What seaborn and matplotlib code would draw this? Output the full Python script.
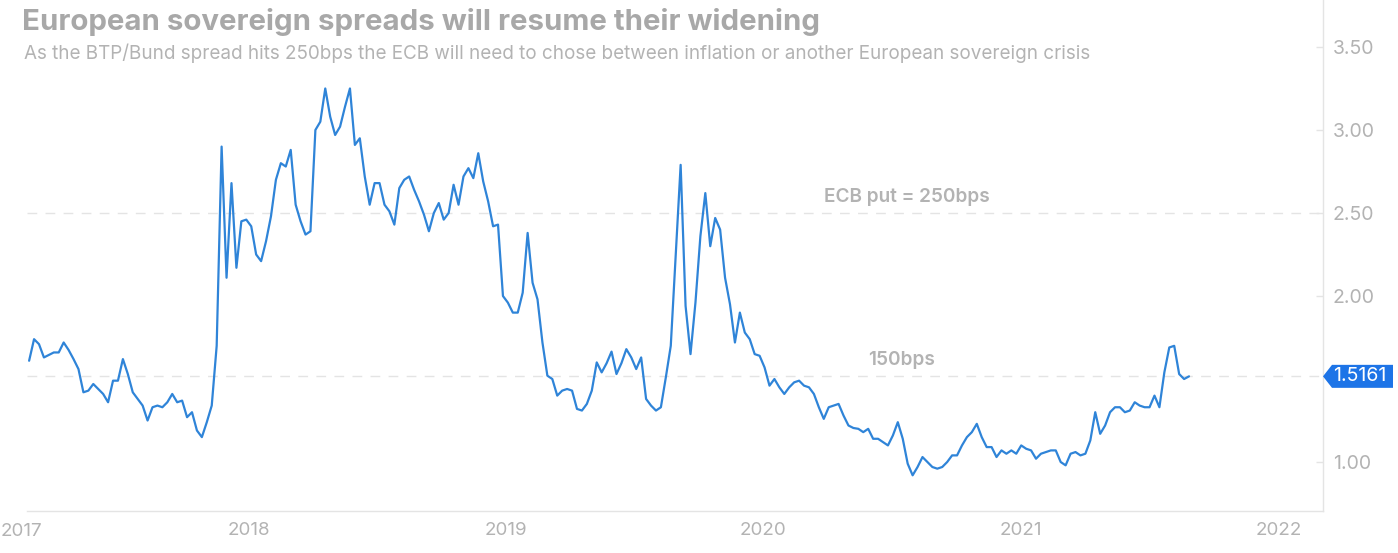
import pandas as pd
import seaborn as sns
import matplotlib
matplotlib.use("Agg")
import matplotlib.pyplot as plt
from matplotlib.patches import Polygon
from matplotlib.transforms import IdentityTransform

# weekly BTP/Bund spread (%)
dates = pd.date_range("2017-02-24", periods=236, freq="W-FRI")
spread = [
    1.61, 1.74, 1.71, 1.63, 1.645, 1.66, 1.66, 1.72, 1.675, 1.62,
    1.56, 1.42, 1.43, 1.47, 1.44, 1.41, 1.36, 1.49, 1.49, 1.62,
    1.53, 1.42, 1.38, 1.34, 1.25, 1.33, 1.34, 1.33, 1.36, 1.41,
    1.36, 1.37, 1.27, 1.30, 1.19, 1.15, 1.24, 1.34, 1.70, 2.90,
    2.11, 2.68, 2.17, 2.45, 2.46, 2.42, 2.25, 2.21, 2.33, 2.48,
    2.70, 2.80, 2.78, 2.88, 2.55, 2.45, 2.37, 2.39, 3.00, 3.05,
    3.25, 3.08, 2.97, 3.02, 3.14, 3.25, 2.91, 2.95, 2.72, 2.55,
    2.68, 2.68, 2.55, 2.51, 2.43, 2.65, 2.70, 2.72, 2.64, 2.57,
    2.49, 2.39, 2.50, 2.56, 2.46, 2.50, 2.67, 2.55, 2.72, 2.77,
    2.71, 2.86, 2.69, 2.57, 2.42, 2.43, 2.00, 1.96, 1.90, 1.90,
    2.02, 2.38, 2.08, 1.98, 1.72, 1.52, 1.50, 1.40, 1.43, 1.44,
    1.43, 1.32, 1.31, 1.35, 1.43, 1.60, 1.54, 1.595, 1.665, 1.53,
    1.595, 1.68, 1.63, 1.56, 1.63, 1.38, 1.34, 1.31, 1.33, 1.51,
    1.70, 2.25, 2.79, 1.94, 1.65, 1.96, 2.36, 2.62, 2.30, 2.47,
    2.40, 2.11, 1.95, 1.72, 1.90, 1.78, 1.74, 1.65, 1.64, 1.57,
    1.46, 1.50, 1.45, 1.41, 1.45, 1.48, 1.49, 1.46, 1.45, 1.41,
    1.33, 1.26, 1.33, 1.34, 1.35, 1.28, 1.22, 1.205, 1.20, 1.18,
    1.20, 1.14, 1.14, 1.12, 1.10, 1.16, 1.24, 1.14, 0.99, 0.92,
    0.97, 1.03, 1.00, 0.97, 0.96, 0.97, 1.00, 1.04, 1.04, 1.10,
    1.15, 1.18, 1.23, 1.15, 1.09, 1.09, 1.03, 1.07, 1.05, 1.07,
    1.05, 1.10, 1.08, 1.07, 1.02, 1.05, 1.06, 1.07, 1.07, 1.00,
    0.98, 1.05, 1.06, 1.04, 1.05, 1.13, 1.30, 1.17, 1.22, 1.30,
    1.33, 1.33, 1.30, 1.31, 1.36, 1.34, 1.33, 1.33, 1.40, 1.33,
    1.54, 1.69, 1.70, 1.53, 1.50, 1.5161,
]
year_labels = ["2018", "2019", "2020", "2021", "2022"]
y_ticks = [1.0, 2.0, 2.5, 3.0, 3.5]
ecb_put = 2.5
last_value = spread[-1]

BLUE = "#2f84d8"
TAG_BLUE = "#1d74e7"
GRID = "#e4e4e4"
LABEL = "#b3b3b3"

df = pd.DataFrame({"date": dates, "spread": spread})

sns.set_theme(style="white")
plt.rcParams["font.family"] = ["Inter", "DejaVu Sans"]

fig = plt.figure(figsize=(13.98, 5.53), dpi=100)
ax = fig.add_axes([27 / 1398, 42 / 553, 1296 / 1398, 511 / 553])

ax.axhline(ecb_put, color=GRID, lw=1, dashes=(7, 6), zorder=1)
ax.axhline(last_value, color=GRID, lw=1, dashes=(7, 6), zorder=1)

sns.lineplot(data=df, x="date", y="spread", ax=ax, color=BLUE, linewidth=1.6, zorder=3)

ax.set_xlim(pd.Timestamp("2017-02-21"), pd.Timestamp("2022-03-05"))
ax.set_ylim(0.705, 3.783)
ax.set_xlabel("")
ax.set_ylabel("")

ax.set_xticks([pd.Timestamp(f"{y}-01-01") for y in year_labels])
ax.set_xticklabels(year_labels)
ax.yaxis.tick_right()
ax.set_yticks(y_ticks)
ax.set_yticklabels([f"{v:.2f}" for v in y_ticks])
ax.tick_params(axis="x", length=0, pad=8, labelsize=13.5, labelcolor=LABEL)
ax.tick_params(axis="y", direction="in", length=5, width=1, color=GRID,
               pad=7, labelsize=14, labelcolor=LABEL)

for side in ["top", "left"]:
    ax.spines[side].set_visible(False)
for side in ["bottom", "right"]:
    ax.spines[side].set_color(GRID)
    ax.spines[side].set_linewidth(1)

# 2017 sits left of the visible range, shown at the edge
fig.text(1 / 1398, 1 - 531 / 553, "2017", ha="left", va="center",
         fontsize=13.5, color=LABEL)

ax.annotate("ECB put = 250bps", xy=(pd.Timestamp("2020-07-23"), ecb_put),
            xytext=(0, 5), textcoords="offset points", ha="center", va="bottom",
            fontsize=13.7, fontweight="semibold", color=LABEL)
ax.annotate("150bps", xy=(pd.Timestamp("2020-07-16"), last_value),
            xytext=(0, 5), textcoords="offset points", ha="center", va="bottom",
            fontsize=13.7, fontweight="semibold", color=LABEL)

# last value tag on the right axis
x_edge = ax.transAxes.transform((1, 0))[0]
y_last = ax.transData.transform((0, last_value))[1]
tag = Polygon([(x_edge, y_last), (x_edge + 9, y_last + 11.5), (x_edge + 70, y_last + 11.5),
               (x_edge + 70, y_last - 11.5), (x_edge + 9, y_last - 11.5)],
              closed=True, facecolor=TAG_BLUE, edgecolor="none",
              transform=IdentityTransform())
fig.add_artist(tag)
fig.text(x_edge + 10, y_last, f"{last_value:.4f}", transform=IdentityTransform(),
         ha="left", va="center", fontsize=14, color="white")

fig.text(22 / 1398, 1 - 22 / 553, "European sovereign spreads will resume their widening",
         ha="left", va="center", fontsize=21.2, fontweight="bold", color="#a8a8a8")
fig.text(24 / 1398, 1 - 53 / 553,
         "As the BTP/Bund spread hits 250bps the ECB will need to chose between "
         "inflation or another European sovereign crisis",
         ha="left", va="center", fontsize=13.6, color=LABEL)

fig.savefig("out.png", dpi=100)
